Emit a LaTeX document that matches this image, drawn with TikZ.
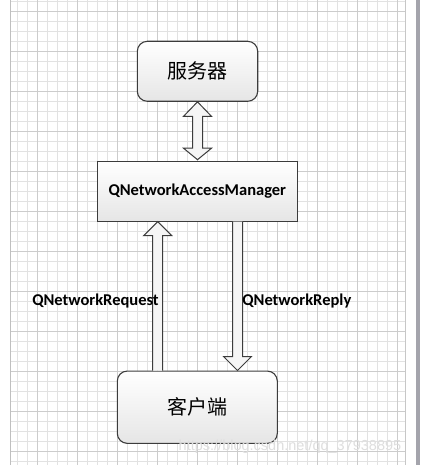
\documentclass[tikz,border=0pt]{standalone}
\usepackage{fontspec}
\setmainfont{Carlito}
\newfontfamily\cjk{Noto Sans CJK SC}
\newfontfamily\wmfont{Liberation Sans}
\usetikzlibrary{calc}
\definecolor{minorgrid}{HTML}{E2E2E2}
\definecolor{majorgrid}{HTML}{CCCCCC}
\definecolor{edge}{HTML}{3C3C3C}
\definecolor{arrowfill}{HTML}{F5F5F5}
\definecolor{sidebar}{HTML}{A4A4AC}
\tikzset{
  minorline/.style={draw=minorgrid, line width=0.8pt},
  majorline/.style={draw=majorgrid, line width=0.9pt},
  boxbase/.style={draw=edge, line width=1.1pt, top color=white, bottom color=black!10, inner sep=0pt, align=center},
  roundbox/.style={boxbase, rounded corners=10pt},
  squarebox/.style={boxbase},
  cjktext/.style={font=\cjk\fontsize{20}{24}\selectfont},
  labeltext/.style={font=\bfseries\fontsize{16.5}{20}\selectfont, inner sep=0pt},
  blockarrow/.style={draw=edge, fill=arrowfill, line width=1pt, line join=miter},
  watermark/.style={font=\wmfont\fontsize{14.5}{17}\selectfont, text=black!13, inner sep=0pt}
}
\begin{document}
\begin{tikzpicture}[x=1pt, y=-1pt]
\useasboundingbox (0,0) rectangle (421,465);
\fill[white] (0,0) rectangle (421,465);
% grid
\foreach \i in {0,...,38} \draw[minorline] (17.3+10*\i,0) -- (17.3+10*\i,465);
\foreach \i in {0,...,46} \draw[minorline] (10,1.7+10*\i) -- (405,1.7+10*\i);
\foreach \i in {0,...,9} \draw[majorline] (37.3+40*\i,0) -- (37.3+40*\i,465);
\foreach \i in {0,...,11} \draw[majorline] (10,11.7+40*\i) -- (405,11.7+40*\i);
\draw[draw=black!25, line width=0.9pt] (10,0) -- (10,465);
\draw[draw=black!22, line width=0.9pt] (405,0) -- (405,465);
\fill[sidebar] (416,0) rectangle (419.5,465);
% nodes
\node[roundbox, minimum width=120.4pt, minimum height=60pt, cjktext] (srv) at (197.5,71.3) {服务器};
\node[squarebox, minimum width=200pt, minimum height=59.3pt, labeltext] (mgr) at (197.3,191.4) {QNetworkAccessManager};
\node[roundbox, minimum width=160pt, minimum height=72.3pt, cjktext] (cli) at (197.3,407.2) {客户端};
% anchors for arrows
\coordinate (dtop) at (srv.south);
\coordinate (dbot) at (dtop |- mgr.north);
\coordinate (utip) at ([xshift=-39.6pt]mgr.south);
\coordinate (utail) at (utip |- cli.north);
\coordinate (rtail) at ([xshift=40.2pt]mgr.south);
\coordinate (rtip) at (rtail |- cli.north);
% double arrow server <-> manager
\draw[blockarrow] let \p1=(dtop), \p2=(dbot) in
  (\x1,\y1) -- (\x1+14pt,\y1-14.5pt) -- (\x1+5pt,\y1-14.5pt) -- (\x1+5pt,\y2+13pt)
  -- (\x1+14pt,\y2+13pt) -- (\x2,\y2+1.5pt) -- (\x1-14pt,\y2+13pt) -- (\x1-5pt,\y2+13pt)
  -- (\x1-5pt,\y1-14.5pt) -- (\x1-14pt,\y1-14.5pt) -- cycle;
% up arrow client -> manager
\draw[blockarrow] let \p1=(utail), \p2=(utip) in
  (\x1-5pt,\y1) -- (\x1-5pt,\y2-14pt) -- (\x1-14pt,\y2-14pt) -- (\x2,\y2)
  -- (\x1+14pt,\y2-14pt) -- (\x1+5pt,\y2-14pt) -- (\x1+5pt,\y1);
% down arrow manager -> client
\draw[blockarrow] let \p1=(rtail), \p2=(rtip) in
  (\x1-5pt,\y1) -- (\x1-5pt,\y2+14pt) -- (\x1-14pt,\y2+14pt) -- (\x2,\y2)
  -- (\x1+14pt,\y2+14pt) -- (\x1+5pt,\y2+14pt) -- (\x1+5pt,\y1);
% labels
\node[labeltext] (lreq) at (95.5,301) {QNetworkRequest};
\node[labeltext] (lrep) at (296.8,301) {QNetworkReply};
% watermark
\node[watermark] (wm) at (290,446.5) {https://blog.csdn.net/qq\_37938895};
\end{tikzpicture}
\end{document}
